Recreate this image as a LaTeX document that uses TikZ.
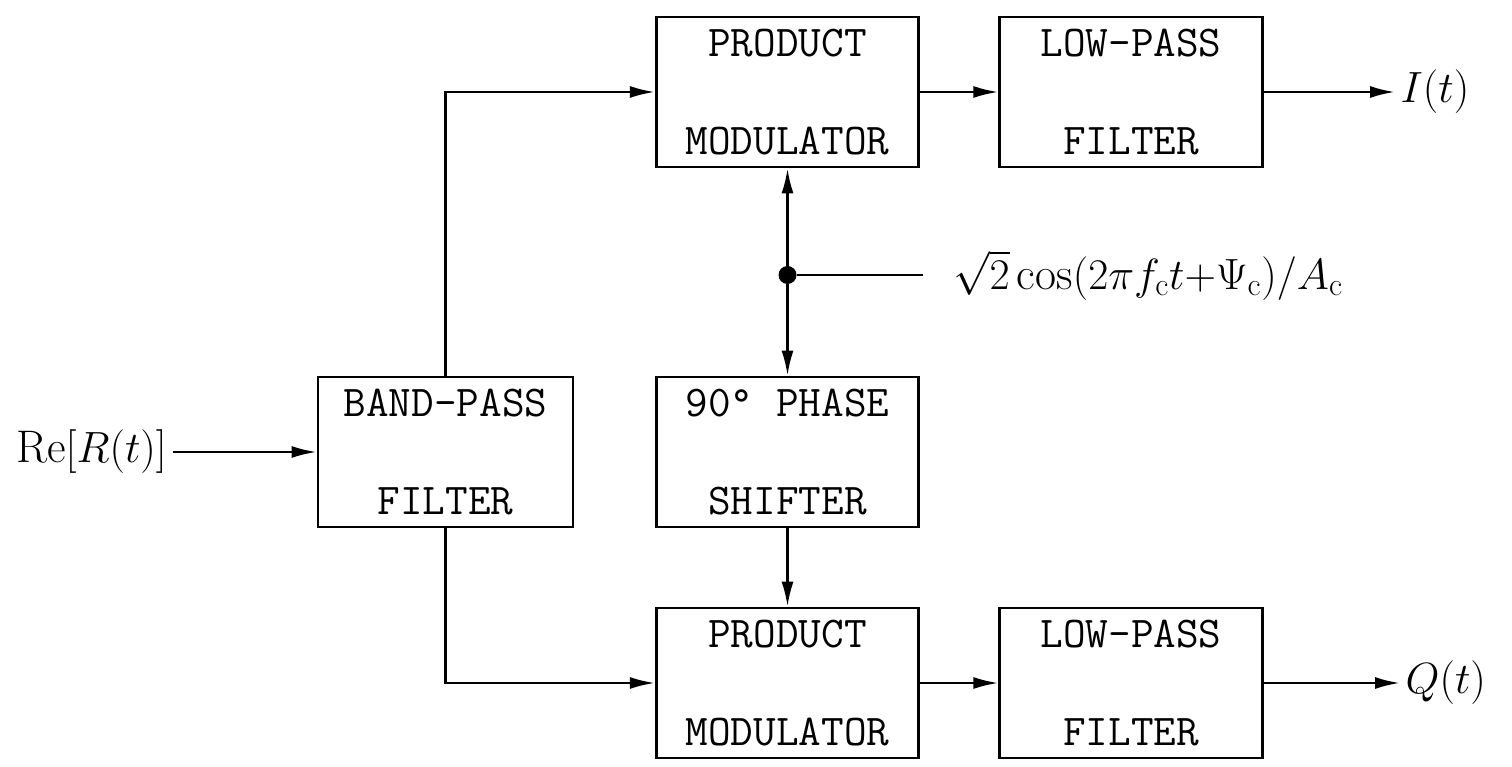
\documentclass[tikz,border=0pt]{standalone}
\usepackage{fontspec}
\usetikzlibrary{arrows.meta}
\begin{document}
\begin{tikzpicture}[
    block/.style={draw, line width=1.5pt, minimum width=5.25cm, minimum height=3cm,
                  align=center, font=\ttfamily\fontsize{25}{56}\selectfont},
    sig/.style={line width=1.5pt, -{Latex[length=5mm,width=2.4mm]}},
    lbl/.style={font=\fontsize{26}{30}\selectfont, inner sep=3pt}
]
    \useasboundingbox (0,0) rectangle (30.24,15.32);

    % blocks
    \node[block] (pmI) at (15.75,13.48) {PRODUCT\\MODULATOR};
    \node[block] (lpI) at (22.62,13.48) {LOW-PASS\\FILTER};
    \node[block, minimum width=5.1cm] (bpf) at (8.91,6.28) {BAND-PASS\\FILTER};
    \node[block] (ps) at (15.75,6.28) {90° PHASE\\SHIFTER};
    \node[block] (pmQ) at (15.75,1.66) {PRODUCT\\MODULATOR};
    \node[block] (lpQ) at (22.62,1.66) {LOW-PASS\\FILTER};

    % input and outputs
    \node[lbl, anchor=east] (re) at (3.45,6.28) {$\mathrm{Re}[R(t)]$};
    \node[lbl, anchor=west] (it) at (27.9,13.48) {$I(t)$};
    \node[lbl, anchor=west] (qt) at (28.0,1.66) {$Q(t)$};

    % local oscillator
    \node[circle, fill, inner sep=0pt, minimum size=0.36cm] (dot) at (15.75,9.82) {};
    \coordinate (oscend) at (18.45,9.82);
    \node[lbl, anchor=west] (osc) at (18.95,9.82)
        {$\sqrt{2}\cos(2\pi f_{\mathrm{c}}t{+}\Psi_{\mathrm{c}})/A_{\mathrm{c}}$};

    % connectors
    \draw[sig] (re.east) -- (bpf.west);
    \draw[sig] (bpf.north) |- (pmI.west);
    \draw[sig] (bpf.south) |- (pmQ.west);
    \draw[sig] (pmI) -- (lpI);
    \draw[sig] (lpI.east) -- (it.west);
    \draw[sig] (pmQ) -- (lpQ);
    \draw[sig] (lpQ.east) -- (qt.west);
    \draw[line width=1.5pt] (oscend) -- (dot);
    \draw[sig] (dot) -- (pmI.south);
    \draw[sig] (dot) -- (ps.north);
    \draw[sig] (ps) -- (pmQ);
\end{tikzpicture}
\end{document}
